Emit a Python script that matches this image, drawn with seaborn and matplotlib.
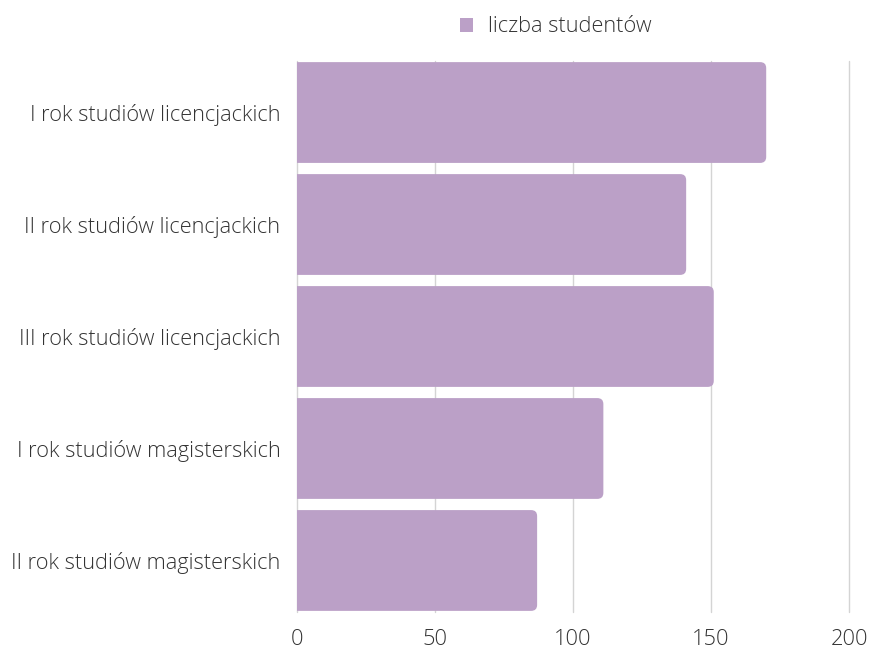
import matplotlib
matplotlib.use("Agg")
import matplotlib.pyplot as plt
import seaborn as sns
import pandas as pd
from matplotlib.patches import FancyBboxPatch, Patch

categories = [
    "I rok studiów licencjackich",
    "II rok studiów licencjackich",
    "III rok studiów licencjackich",
    "I rok studiów magisterskich",
    "II rok studiów magisterskich",
]
values = [170, 141, 151, 111, 87]
series_name = "liczba studentów"
xticks = [0, 50, 100, 150, 200]

color = "#BBA0C7"
text_color = "#333333"

sns.set_theme(style="white")
plt.rcParams["font.family"] = ["Open Sans", "DejaVu Sans"]

df = pd.DataFrame({"kategoria": categories, "wartosc": values})

fig = plt.figure(figsize=(8.69, 6.48), dpi=100)
ax = fig.add_axes([297 / 869, 1 - 612 / 648, (849 - 297) / 869, (612 - 61) / 648])

sns.barplot(data=df, x="wartosc", y="kategoria", color=color, width=0.9,
            saturation=1, ax=ax, zorder=2)

ax.set_xlim(0, 200)
ax.set_ylim(4.46, -0.46)

# replace bars with rounded ones
px_per_x = (849 - 297) / 200
px_per_y = (612 - 61) / 4.92
r = 6
rx = r / px_per_x
ry = r / px_per_y
patches = list(ax.patches)
for p in patches:
    x0, y0 = p.get_x(), p.get_y()
    w, h = p.get_width(), p.get_height()
    p.remove()
    fb = FancyBboxPatch((x0 - 10, y0), w + 10, h,
                        boxstyle=f"round,pad=0,rounding_size={rx}",
                        mutation_aspect=ry / rx,
                        facecolor=color, edgecolor="none", zorder=2)
    ax.add_patch(fb)

ax.set_xticks(xticks)
ax.set_xticklabels([str(t) for t in xticks])
ax.grid(axis="x", color="#d4d4d4", linewidth=1, zorder=0)
ax.grid(axis="y", visible=False)
for gl in ax.get_xgridlines():
    gl.set_clip_on(False)
for s in ax.spines.values():
    s.set_visible(False)
ax.tick_params(axis="both", length=0, labelsize=15.7, colors=text_color)
ax.tick_params(axis="y", pad=12)
ax.tick_params(axis="x", pad=12)
for lab in ax.get_xticklabels() + ax.get_yticklabels():
    lab.set_fontweight("light")
ax.set_xlabel("")
ax.set_ylabel("")

leg = fig.legend(handles=[Patch(facecolor=color, edgecolor="none", label=series_name)],
                 loc="center", bbox_to_anchor=(556 / 869, 1 - 27 / 648), frameon=False,
                 fontsize=15.7, handlelength=0.6, handleheight=0.6, handletextpad=0.7,
                 labelcolor=text_color)
for t in leg.get_texts():
    t.set_fontweight("light")

fig.savefig("out.png", dpi=100)
